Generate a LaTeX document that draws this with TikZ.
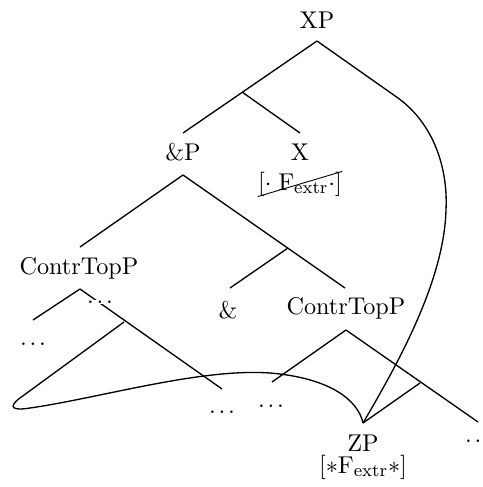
\documentclass[tikz,border=0pt]{standalone}
\usetikzlibrary{shapes.misc}
\newcommand{\tdots}{.\kern1.2pt.\kern1.2pt.}
\begin{document}
\begin{tikzpicture}[x=0.45pt,y=-0.45pt,
  lbl/.style={inner sep=1pt,font=\fontsize{10.9}{12}\selectfont},
  dots/.style={lbl,fill=white,inner sep=0.5pt},
  branch/.style={line width=0.6pt},
  feat/.style={lbl,strike out,draw,inner sep=0pt}]
\useasboundingbox (0,0) rectangle (482,487);
% labels
\node[lbl] (xp) at (317,20) {XP};
\node[lbl] (andp) at (183,152) {\&P};
\node[lbl] (x) at (300,152) {X};
\node[feat] (xf) at (300,184) {$[\cdot\;\mathrm{F}_{\mathrm{extr}}\cdot]$};
\node[lbl] (ctl) at (79,268) {ContrTopP};
\node[lbl] (amp) at (228,310) {\&};
\node[lbl] (ctr) at (346,308) {ContrTopP};
\node[lbl] (d1) at (33,344) {\tdots};
\node[lbl] (d3) at (222,412) {\tdots};
\node[lbl] (d4) at (271,406) {\tdots};
\node[lbl] (zp) at (363,443) {ZP};
\node[lbl] (zpf) at (363,467) {$[{*}\mathrm{F}_{\mathrm{extr}}{*}]$};
\node[lbl] (d5) at (478,441) {\tdots};
% attachment points
\coordinate (xp-s) at (317,41);
\coordinate (xp-b) at (242,92);
\coordinate (xp-r) at (398,98);
\coordinate (andp-n) at (183,133);
\coordinate (x-n) at (300,133);
\coordinate (andp-s) at (183,175);
\coordinate (ctl-n) at (80,247);
\coordinate (ctr-n) at (345,288);
\coordinate (andp-b) at (288,248);
\coordinate (amp-n) at (230,288);
\coordinate (ctl-s) at (80,289);
\coordinate (d1-n) at (33,320);
\coordinate (ctl-b) at (124,322);
\coordinate (d3-n) at (222,389);
\coordinate (ctr-s) at (346,330);
\coordinate (d4-n) at (272,382);
\coordinate (ctr-b) at (420,383);
\coordinate (d5-n) at (478,422);
\coordinate (zp-n) at (363,423);
% tree lines
\draw[branch] (xp-s) -- (andp-n);
\draw[branch] (xp-b) -- (x-n);
\draw[branch] (andp-s) -- (ctl-n);
\draw[branch] (andp-s) -- (ctr-n);
\draw[branch] (andp-b) -- (amp-n);
\draw[branch] (ctl-s) -- (d1-n);
\draw[branch] (ctl-s) -- (d3-n);
\draw[branch] (ctr-s) -- (d4-n);
\draw[branch] (ctr-s) -- (d5-n);
\draw[branch] (ctr-b) -- (zp-n);
% movement curves
\draw[branch] (xp-s) -- (xp-r) .. controls (435,125) and (448,170) .. (446,210)
  .. controls (444,280) and (400,360) .. (zp-n);
\draw[branch] (ctl-b) -- (20,398) .. controls (8,407) and (12,411) .. (30,408)
  .. controls (100,398) and (200,368) .. (270,373)
  .. controls (330,378) and (358,400) .. (zp-n);
% dots covering the line
\node[dots] (d2) at (100,302) {\tdots};
\end{tikzpicture}
\end{document}
